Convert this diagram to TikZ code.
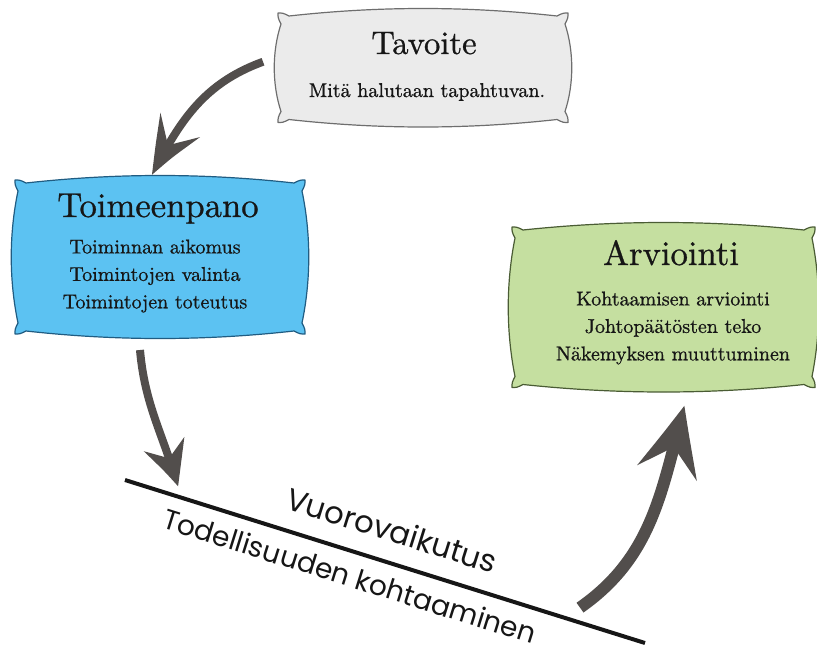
\documentclass[tikz,border=0pt]{standalone}
\usepackage{fontspec}
\newfontfamily\geofont{Poppins}
\newfontfamily\boxfont{lmroman10-regular.otf}[FakeBold=0.8]
\usetikzlibrary{arrows.meta,bending,calc,backgrounds}

\definecolor{ink}{RGB}{22,22,22}
\definecolor{arrowgray}{RGB}{82,78,76}
\definecolor{tavfill}{RGB}{235,235,235}
\definecolor{tavedge}{RGB}{110,110,110}
\definecolor{toimfill}{RGB}{92,194,242}
\definecolor{toimedge}{RGB}{32,92,130}
\definecolor{arvfill}{RGB}{197,223,160}
\definecolor{arvedge}{RGB}{74,92,52}

% pillow outline around a named rectangle node: bulging sides, small corner ears
\newcommand\pillowoutline[1]{%
  (#1.north west)
  .. controls ($(#1.north west)+(5,0)$) .. ($(#1.north west)+(11,3)$)
  .. controls ($(#1.north west)!0.35!(#1.north east)+(0,-7)$) and ($(#1.north west)!0.65!(#1.north east)+(0,-7)$) .. ($(#1.north east)+(-11,3)$)
  .. controls ($(#1.north east)+(-5,0)$) .. (#1.north east)
  .. controls ($(#1.north east)+(0,5)$) .. ($(#1.north east)+(-3,11)$)
  .. controls ($(#1.north east)!0.35!(#1.south east)+(6,0)$) and ($(#1.north east)!0.65!(#1.south east)+(6,0)$) .. ($(#1.south east)+(-3,-11)$)
  .. controls ($(#1.south east)+(0,-5)$) .. (#1.south east)
  .. controls ($(#1.south east)+(-5,0)$) .. ($(#1.south east)+(-11,-3)$)
  .. controls ($(#1.south east)!0.35!(#1.south west)+(0,7)$) and ($(#1.south east)!0.65!(#1.south west)+(0,7)$) .. ($(#1.south west)+(11,-3)$)
  .. controls ($(#1.south west)+(5,0)$) .. (#1.south west)
  .. controls ($(#1.south west)+(0,-5)$) .. ($(#1.south west)+(3,-11)$)
  .. controls ($(#1.south west)!0.35!(#1.north west)+(-6,0)$) and ($(#1.south west)!0.65!(#1.north west)+(-6,0)$) .. ($(#1.north west)+(3,11)$)
  .. controls ($(#1.north west)+(0,5)$) .. cycle}

\begin{document}
\begin{tikzpicture}[x=0.75pt,y=-0.75pt,
  pillowbox/.style 2 args={inner sep=0pt, outer sep=0pt,
    minimum width={#1*0.75pt}, minimum height={#2*0.75pt}},
  pillowline/.style={line width=0.9pt, line join=round},
  boxtitle/.style={anchor=base, inner sep=0pt, text=ink},
  boxbody/.style={anchor=center, inner sep=0pt, text=ink, align=center,
    font=\boxfont\fontsize{15}{20.6}\selectfont},
  geotext/.style={inner sep=0pt, text=ink, rotate=-17.4},
  flowA/.style={draw=arrowgray, line width=6pt,
    -{Stealth[length=45pt,width=34pt,inset=19pt,bend]}},
  flowB/.style={draw=arrowgray, line width=6pt,
    -{Stealth[length=35pt,width=31pt,inset=12pt,bend]}},
  flowC/.style={draw=arrowgray, line width=9pt,
    -{Stealth[length=54pt,width=45pt,inset=21pt,bend]}},
]
\useasboundingbox (0,0) rectangle (817,646);

% boxes
\node[pillowbox={290}{109.5}] (tav) at (423,67.75) {};
\node[pillowbox={290}{154}] (toim) at (160,257) {};
\node[pillowbox={303}{160.5}] (arv) at (663.5,307.25) {};

\begin{scope}[on background layer]
  \filldraw[pillowline, fill=tavfill, draw=tavedge] \pillowoutline{tav};
  \filldraw[pillowline, fill=toimfill, draw=toimedge] \pillowoutline{toim};
  \filldraw[pillowline, fill=arvfill, draw=arvedge] \pillowoutline{arv};
\end{scope}

% box texts
\node[boxtitle, font=\boxfont\fontsize{24.5}{29}\selectfont] (tav-title) at (424,54) {Tavoite};
\node[boxtitle, font=\boxfont\fontsize{15}{20.6}\selectfont] (tav-body) at (427,97) {Mitä halutaan tapahtuvan.};

\node[boxtitle, font=\boxfont\fontsize{26}{30}\selectfont] (toim-title) at (158,217) {Toimeenpano};
\node[boxbody] (toim-body) at (155,276) {Toiminnan aikomus\\Toimintojen valinta\\Toimintojen toteutus};

\node[boxtitle, font=\boxfont\fontsize{26}{30}\selectfont] (arv-title) at (671,265) {Arviointi};
\node[boxbody] (arv-body) at (673,328) {Kohtaamisen arviointi\\Johtopäätösten teko\\Näkemyksen muuttuminen};

% interaction line
\coordinate (ln-a) at (125,480);
\coordinate (ln-b) at (645,643);
\draw[line width=3pt, ink] (ln-a) -- (ln-b);
\coordinate (ln-tip) at ($(ln-a)!0.102!(ln-b)+(0,-10)$);
\coordinate (ln-rise) at ($(ln-a)!0.875!(ln-b)+(0,-15)$);

\node[geotext, font=\geofont\fontsize{23}{28}\selectfont] (vuoro) at (392,530) {Vuorovaikutus};
\node[geotext, font=\geofont\fontsize{21}{25}\selectfont] (todell) at (350,576) {Todellisuuden kohtaaminen};

% cycle arrows
\draw[flowA] ($(tav.west)+(-15,-6)$) to[out=200,in=63] ($(toim.north)+(-8,-5)$);
\draw[flowB] ($(toim.south)+(-20,16)$) to[out=275,in=106] (ln-tip);
\draw[flowC] (ln-rise) to[out=35,in=255] ($(arv.south)+(21,18)$);
\end{tikzpicture}
\end{document}
